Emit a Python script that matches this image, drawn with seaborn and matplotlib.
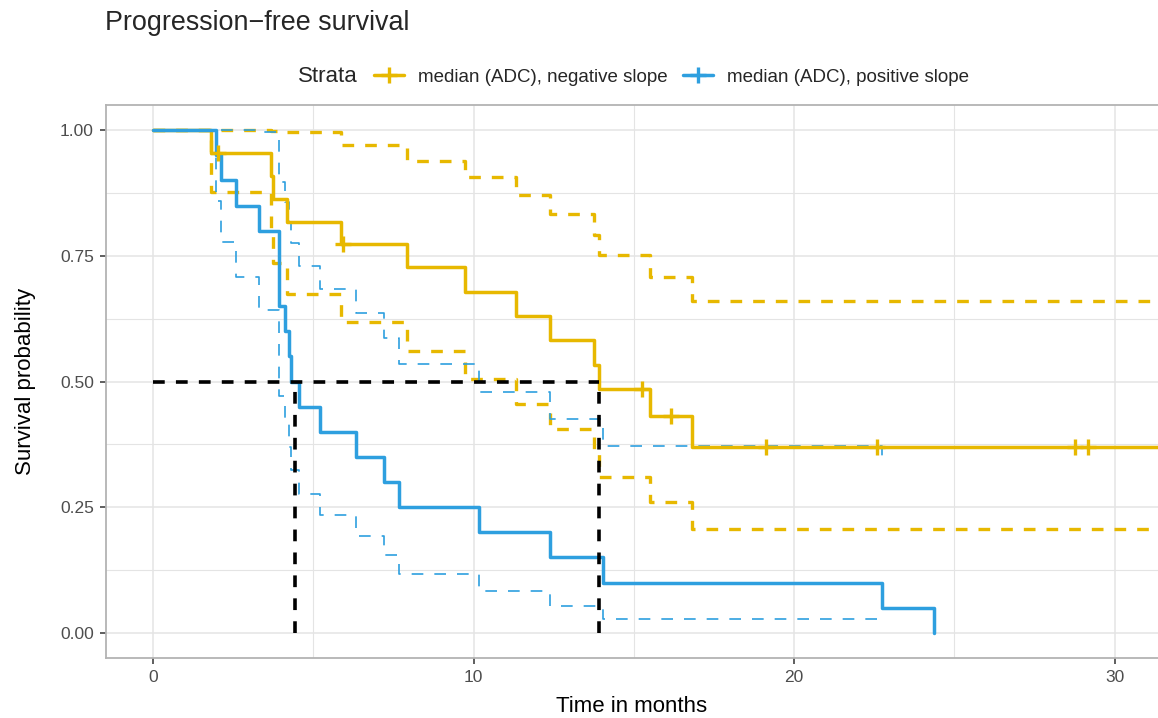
import numpy as np
import pandas as pd
import matplotlib
matplotlib.use('Agg')
import matplotlib.pyplot as plt
from matplotlib.lines import Line2D
import seaborn as sns

# Kaplan-Meier steps
# median (ADC), negative slope
neg_time = [0, 1.80, 3.68, 3.73, 4.19, 5.85, 7.93, 9.74, 11.31, 12.39, 13.77, 13.92, 15.50, 16.83, 33.0]
neg_surv = [1.000, 0.955, 0.909, 0.864, 0.818, 0.773, 0.727, 0.679, 0.630, 0.582, 0.533, 0.485, 0.431, 0.369, 0.369]
neg_upper = [1.000, 1.000, 0.999, 0.998, 0.997, 0.970, 0.939, 0.906, 0.871, 0.833, 0.791, 0.751, 0.708, 0.660, 0.660]
neg_lower = [1.000, 0.877, 0.800, 0.735, 0.675, 0.618, 0.561, 0.505, 0.455, 0.405, 0.355, 0.311, 0.261, 0.206, 0.206]
neg_censor = [2.03, 5.92, 15.27, 16.15, 19.13, 22.60, 28.78, 29.16]

# median (ADC), positive slope
pos_time = [0, 1.97, 2.11, 2.58, 3.31, 3.94, 4.10, 4.24, 4.31, 4.54, 5.20, 6.32, 7.20, 7.68,
            10.18, 12.39, 14.03, 22.73, 24.37]
pos_surv = [1.00, 0.95, 0.90, 0.85, 0.80, 0.65, 0.60, 0.55, 0.50, 0.45, 0.40, 0.35, 0.30, 0.25,
            0.20, 0.15, 0.10, 0.05, 0.00]
pos_upper = [1.000, 1.000, 1.000, 1.000, 0.996, 0.896, 0.858, 0.817, 0.775, 0.730, 0.684, 0.636,
             0.586, 0.534, 0.480, 0.426, 0.372, 0.340, np.nan]
pos_lower = [1.000, 0.859, 0.778, 0.707, 0.643, 0.471, 0.420, 0.370, 0.323, 0.277, 0.234, 0.193,
             0.154, 0.117, 0.083, 0.053, 0.027, 0.020, np.nan]

strata = ['median (ADC), negative slope', 'median (ADC), positive slope']
colors = ['#E7B800', '#2E9FDF']
median_times = [13.92, 4.43]

neg = pd.DataFrame({'time': neg_time, 'surv': neg_surv, 'upper': neg_upper, 'lower': neg_lower})
pos = pd.DataFrame({'time': pos_time, 'surv': pos_surv, 'upper': pos_upper, 'lower': pos_lower})

sns.set_theme(style='white')
plt.rcParams['font.family'] = ['Liberation Sans', 'DejaVu Sans']

fig = plt.figure(figsize=(11.58, 7.18), dpi=100)
ax = fig.add_axes([105.7 / 1158, 60 / 718, 1 - 105.7 / 1158, 553 / 718])

step = dict(x='time', drawstyle='steps-post', estimator=None, sort=False, ax=ax, legend=False)

# confidence bands
sns.lineplot(data=neg, y='upper', color=colors[0], lw=2.4, linestyle=(0, (3.5, 3.3)), **step)
sns.lineplot(data=neg, y='lower', color=colors[0], lw=2.4, linestyle=(0, (3.5, 3.3)), **step)
sns.lineplot(data=pos.dropna(), y='upper', color=colors[1], lw=1.2, linestyle=(0, (7.0, 6.6)), **step)
sns.lineplot(data=pos.dropna(), y='lower', color=colors[1], lw=1.2, linestyle=(0, (7.0, 6.6)), **step)

# survival curves
sns.lineplot(data=neg, y='surv', color=colors[0], lw=2.5, **step)
sns.lineplot(data=pos, y='surv', color=colors[1], lw=2.5, **step)

# censoring ticks
idx = np.searchsorted(neg_time, neg_censor, side='right') - 1
cens = pd.DataFrame({'time': neg_censor, 'surv': np.array(neg_surv)[idx]})
sns.scatterplot(data=cens, x='time', y='surv', marker='+', s=120, linewidth=2.4,
                color=colors[0], ax=ax, legend=False, zorder=5)

# median lines
ax.plot([0, max(median_times)], [0.5, 0.5], color='black', lw=2.6, linestyle=(0, (3.25, 3.1)))
for m in median_times:
    ax.plot([m, m], [0, 0.5], color='black', lw=2.6, linestyle=(0, (3.25, 3.1)))

ax.set_xlim(-1.48, (1158 - 153) / 32.05)
ax.set_ylim(-0.05, 1.05)
ax.set_xticks([0, 10, 20, 30])
ax.set_xticks([5, 15, 25], minor=True)
ax.set_yticks([0, 0.25, 0.5, 0.75, 1.0])
ax.set_yticklabels(['0.00', '0.25', '0.50', '0.75', '1.00'])
ax.set_yticks([0.125, 0.375, 0.625, 0.875], minor=True)
ax.grid(which='major', color='#E4E4E4', lw=1.1)
ax.grid(which='minor', color='#E4E4E4', lw=0.8)
ax.set_axisbelow(True)
for side in ['left', 'bottom', 'top']:
    ax.spines[side].set_color('#B3B3B3')
    ax.spines[side].set_linewidth(1.3)
ax.spines['right'].set_visible(False)
ax.tick_params(which='major', axis='both', length=4.5, width=1.1, color='#333333',
               labelsize=12.5, labelcolor='#4D4D4D', pad=4, left=True, bottom=True)
ax.tick_params(which='minor', length=0)

ax.set_xlabel('Time in months', fontsize=16, color='black', labelpad=8)
ax.set_ylabel('Survival probability', fontsize=16, color='black', labelpad=17)

fig.text(105 / 1158, 1 - 30 / 718, 'Progression\u2212free survival', fontsize=19.4,
         ha='left', va='baseline')

fig.text(298 / 1158, 1 - 77 / 718, 'Strata', fontsize=16, ha='left', va='center')
handles = [Line2D([], [], color=c, lw=2.5, marker='+', markersize=12, markeredgewidth=2.4)
           for c in colors]
fig.legend(handles, strata, loc='center left', bbox_to_anchor=(374 / 1158, 1 - 77 / 718),
           ncol=2, frameon=False, fontsize=13.5, handlelength=1.6, handletextpad=0.75,
           columnspacing=0.8, borderaxespad=0, borderpad=0)

fig.savefig('out.png', dpi=100)
